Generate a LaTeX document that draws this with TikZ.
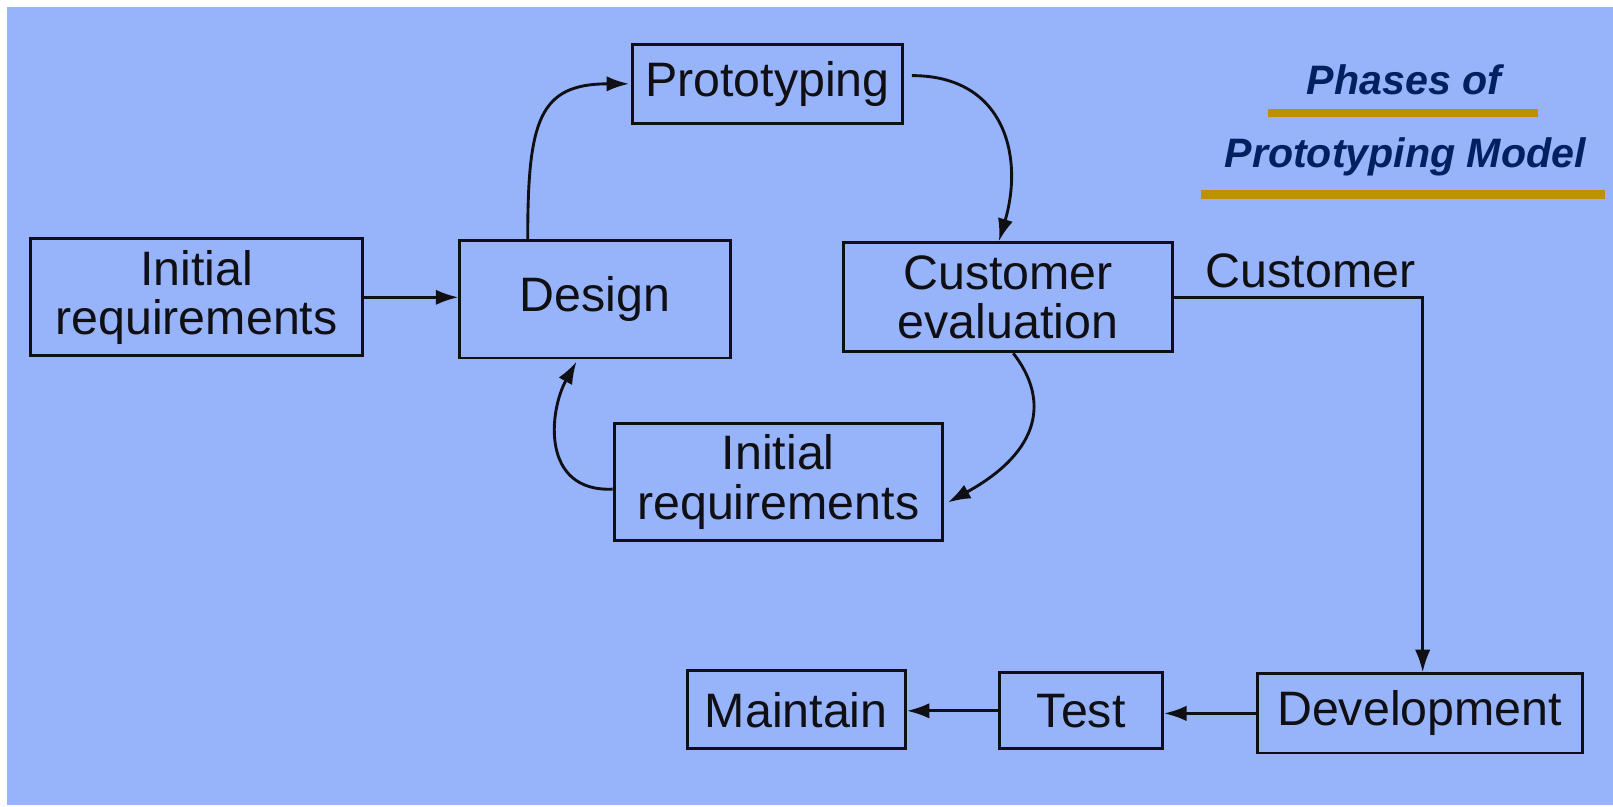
\documentclass[tikz,border=0pt]{standalone}
\usepackage{fontspec}
\setmainfont{Liberation Sans}
\usetikzlibrary{arrows.meta,calc}
\definecolor{bgblue}{RGB}{151,179,250}
\definecolor{titleblue}{RGB}{0,32,96}
\definecolor{goldbar}{RGB}{191,144,0}
\definecolor{ink}{RGB}{15,15,20}
\tikzset{
  box/.style={draw=ink,line width=2.8pt,inner sep=0pt,align=center,text=ink,
    font=\fontsize{47}{48}\selectfont},
  conn/.style={draw=ink,line width=2.8pt,-{Latex[length=22pt,width=15pt]}},
  ttl/.style={text=titleblue,font=\fontsize{40}{44}\selectfont\bfseries\itshape,inner sep=0pt},
  bar/.style={fill=goldbar,draw=none},
  lbl/.style={text=ink,font=\fontsize{47}{48}\selectfont,inner sep=0pt}
}
\begin{document}
\begin{tikzpicture}[x=1pt,y=-1pt]
\useasboundingbox (0,0) rectangle (1568,784);
\fill[white] (0,0) rectangle (1568,784);
\fill[bgblue] (7,7) rectangle (1568,783);
% boxes
\node[box,minimum width=322pt,minimum height=114pt] (ir1) at (191,289) {Initial\\requirements};
\node[box,minimum width=263pt,minimum height=114pt] (design) at (578.5,291) {Design};
\node[box,minimum width=262pt,minimum height=77pt] (proto) at (746,81.5) {Prototyping};
\node[box,minimum width=320pt,minimum height=106pt] (ceval) at (980,289) {Customer\\evaluation};
\node[box,minimum width=319pt,minimum height=113pt] (ir2) at (756.5,468.5) {Initial\\requirements};
\node[box,minimum width=316pt,minimum height=77pt] (dev) at (1380,693.5) {Development};
\node[box,minimum width=158pt,minimum height=74pt] (test) at (1051,691) {Test};
\node[box,minimum width=212pt,minimum height=76pt] (maint) at (774,690) {Maintain};
\node[lbl,anchor=west] (cust) at (1172,263) {Customer};
% title
\node[ttl] (t1) at (1365,78) {Phases of};
\node[ttl] (t2) at (1366,152) {Prototyping Model};
\fill[bar] (1233,106) rectangle (1495,114);
\fill[bar] (1167,185) rectangle (1560,193);
% connectors
\draw[conn] (ir1.east) -- (ir1.east -| design.west);
\draw[conn] ($(design.north)+(-65.5,0)$) .. controls ($(design.north)+(-65.5,-115)$) and ($(proto.west)+(-90,0)$) .. ($(proto.west)+(-2,0)$);
\draw[conn] ($(proto.east)+(8,-8)$) .. controls ($(proto.east)+(100,-8)$) and ($(ceval.north)+(15,-80)$) .. ($(ceval.north)+(-9,0)$);
\draw[conn] ($(ceval.south)+(5,0)$) .. controls ($(ceval.south)+(40,45)$) and ($(ir2.east)+(95,-30)$) .. ($(ir2.east)+(4,20)$);
\draw[conn] ($(ir2.west)+(0,7)$) .. controls ($(ir2.west)+(-70,10)$) and ($(design.south)+(-45,50)$) .. ($(design.south)+(-18,2)$);
\draw[conn] (ceval.east) -| ($(dev.north)+(3,0)$);
\draw[conn] (dev.west) -- (dev.west -| test.east);
\draw[conn] (test.west) -- (test.west -| maint.east);
\end{tikzpicture}
\end{document}
